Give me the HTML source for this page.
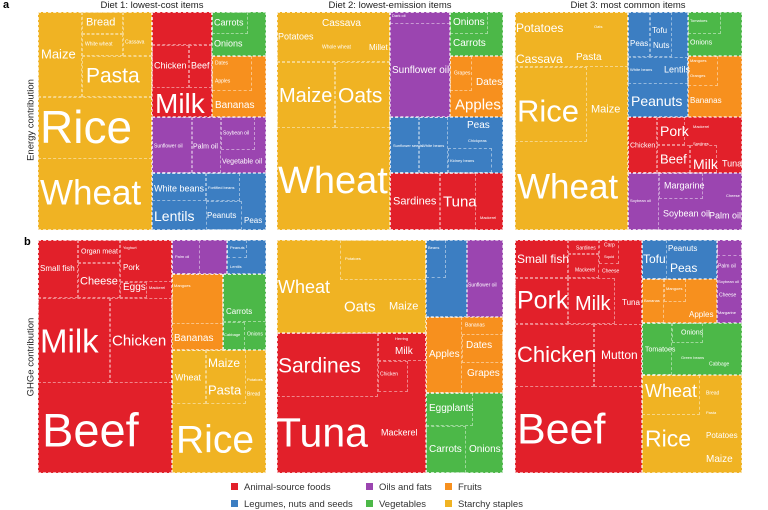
<!DOCTYPE html>
<html><head><meta charset="utf-8">
<style>
html,body{margin:0;padding:0;background:#fff;}
body{width:768px;height:509px;position:relative;overflow:hidden;font-family:"Liberation Sans",Arial,sans-serif;}
.r{position:absolute;box-sizing:border-box;border:1px dashed rgba(255,255,255,.6);}
.i{position:absolute;box-sizing:border-box;border:1px dashed rgba(255,255,255,.45);}
.t{position:absolute;color:#fff;line-height:1;transform:translateY(-50%);white-space:nowrap;}
.S{background:#f0b323}.A{background:#e2202a}.O{background:#9b45b0}.F{background:#f7901e}.L{background:#3c7ec2}.V{background:#4cb848}
.h{position:absolute;font-size:9.5px;color:#222;white-space:nowrap;transform:translateX(-50%);top:0px;}
.ax{position:absolute;font-size:9.5px;color:#222;white-space:nowrap;transform:translate(-50%,-50%) rotate(-90deg);}
.lg{position:absolute;font-size:9.5px;color:#333;white-space:nowrap;line-height:1;}
.lg i{display:inline-block;width:7px;height:7px;margin-right:6px;vertical-align:-0px;}
</style></head><body>
<div style="position:absolute;left:3px;top:-1px;font-weight:bold;font-size:11px;">a</div>
<div style="position:absolute;left:24px;top:236px;font-weight:bold;font-size:11px;">b</div>
<div class="h" style="left:152px">Diet 1: lowest-cost items</div>
<div class="h" style="left:390px">Diet 2: lowest-emission items</div>
<div class="h" style="left:628px">Diet 3: most common items</div>
<div class="ax" style="left:31px;top:120px">Energy contribution</div>
<div class="ax" style="left:31px;top:357px">GHGe contribution</div>

<!-- a1 -->
<div class="r S" style="left:38px;top:12px;width:114px;height:218px"></div>
<div class="i" style="left:38px;top:12px;width:44px;height:85px"></div>
<div class="i" style="left:82px;top:12px;width:41px;height:22px"></div>
<div class="i" style="left:82px;top:34px;width:41px;height:22px"></div>
<div class="i" style="left:123px;top:12px;width:29px;height:44px"></div>
<div class="i" style="left:82px;top:56px;width:70px;height:41px"></div>
<div class="i" style="left:38px;top:97px;width:114px;height:62px"></div>
<div class="r A" style="left:152px;top:12px;width:60px;height:105px"></div>
<div class="i" style="left:152px;top:12px;width:60px;height:33px"></div>
<div class="i" style="left:152px;top:45px;width:37px;height:43px"></div>
<div class="i" style="left:189px;top:45px;width:23px;height:43px"></div>
<div class="r V" style="left:212px;top:12px;width:54px;height:44px"></div>
<div class="i" style="left:212px;top:12px;width:36px;height:22px"></div>
<div class="r F" style="left:212px;top:56px;width:54px;height:61px"></div>
<div class="i" style="left:212px;top:56px;width:40px;height:35px"></div>
<div class="r O" style="left:152px;top:117px;width:114px;height:56px"></div>
<div class="i" style="left:152px;top:117px;width:40px;height:56px"></div>
<div class="i" style="left:192px;top:117px;width:29px;height:56px"></div>
<div class="i" style="left:221px;top:117px;width:34px;height:33px"></div>
<div class="r L" style="left:152px;top:173px;width:114px;height:57px"></div>
<div class="i" style="left:152px;top:173px;width:54px;height:28px"></div>
<div class="i" style="left:206px;top:173px;width:34px;height:28px"></div>
<div class="i" style="left:206px;top:201px;width:36px;height:29px"></div>
<span class="t" style="left:86px;top:23px;font-size:11px">Bread</span>
<span class="t" style="left:85px;top:45px;font-size:5px">White wheat</span>
<span class="t" style="left:125px;top:43px;font-size:5px">Cassava</span>
<span class="t" style="left:41px;top:54px;font-size:13px">Maize</span>
<span class="t" style="left:86px;top:76px;font-size:21px">Pasta</span>
<span class="t" style="left:40px;top:127px;font-size:46px">Rice</span>
<span class="t" style="left:40px;top:193px;font-size:35px">Wheat</span>
<span class="t" style="left:154px;top:66px;font-size:9px">Chicken</span>
<span class="t" style="left:191px;top:66px;font-size:9px">Beef</span>
<span class="t" style="left:155px;top:104px;font-size:28px">Milk</span>
<span class="t" style="left:214px;top:23px;font-size:9px">Carrots</span>
<span class="t" style="left:214px;top:44px;font-size:9px">Onions</span>
<span class="t" style="left:215px;top:64px;font-size:5px">Dates</span>
<span class="t" style="left:215px;top:82px;font-size:5px">Apples</span>
<span class="t" style="left:215px;top:106px;font-size:10px">Bananas</span>
<span class="t" style="left:154px;top:147px;font-size:5px">Sunflower oil</span>
<span class="t" style="left:193px;top:147px;font-size:7px">Palm oil</span>
<span class="t" style="left:223px;top:134px;font-size:5px">Soybean oil</span>
<span class="t" style="left:222px;top:162px;font-size:7px">Vegetable oil</span>
<span class="t" style="left:154px;top:189px;font-size:9px">White beans</span>
<span class="t" style="left:208px;top:188px;font-size:4px">Fortified beans</span>
<span class="t" style="left:154px;top:216px;font-size:14px">Lentils</span>
<span class="t" style="left:207px;top:216px;font-size:8px">Peanuts</span>
<span class="t" style="left:244px;top:221px;font-size:8px">Peas</span>

<!-- a2 -->
<div class="r S" style="left:277px;top:12px;width:113px;height:218px"></div>
<div class="i" style="left:277px;top:12px;width:113px;height:50px"></div>
<div class="i" style="left:277px;top:62px;width:58px;height:66px"></div>
<div class="i" style="left:335px;top:62px;width:55px;height:66px"></div>
<div class="r O" style="left:390px;top:12px;width:60px;height:105px"></div>
<div class="i" style="left:390px;top:12px;width:60px;height:12px"></div>
<div class="r V" style="left:450px;top:12px;width:53px;height:44px"></div>
<div class="i" style="left:450px;top:12px;width:38px;height:22px"></div>
<div class="r F" style="left:450px;top:56px;width:53px;height:61px"></div>
<div class="i" style="left:450px;top:56px;width:22px;height:35px"></div>
<div class="r L" style="left:390px;top:117px;width:113px;height:56px"></div>
<div class="i" style="left:390px;top:117px;width:29px;height:56px"></div>
<div class="i" style="left:419px;top:117px;width:29px;height:56px"></div>
<div class="i" style="left:448px;top:148px;width:44px;height:25px"></div>
<div class="r A" style="left:390px;top:173px;width:113px;height:57px"></div>
<div class="i" style="left:390px;top:173px;width:50px;height:57px"></div>
<div class="i" style="left:440px;top:173px;width:36px;height:57px"></div>
<span class="t" style="left:322px;top:24px;font-size:10px">Cassava</span>
<span class="t" style="left:278px;top:37px;font-size:9px">Potatoes</span>
<span class="t" style="left:322px;top:48px;font-size:5px">Whole wheat</span>
<span class="t" style="left:369px;top:48px;font-size:8px">Millet</span>
<span class="t" style="left:279px;top:96px;font-size:20px">Maize</span>
<span class="t" style="left:338px;top:96px;font-size:21px">Oats</span>
<span class="t" style="left:278px;top:181px;font-size:38px">Wheat</span>
<span class="t" style="left:392px;top:16px;font-size:4px">Dark oil</span>
<span class="t" style="left:392px;top:71px;font-size:10px">Sunflower oil</span>
<span class="t" style="left:453px;top:23px;font-size:10px">Onions</span>
<span class="t" style="left:453px;top:44px;font-size:10px">Carrots</span>
<span class="t" style="left:454px;top:74px;font-size:5px">Grapes</span>
<span class="t" style="left:476px;top:83px;font-size:10px">Dates</span>
<span class="t" style="left:455px;top:105px;font-size:15px">Apples</span>
<span class="t" style="left:467px;top:126px;font-size:10px">Peas</span>
<span class="t" style="left:468px;top:141px;font-size:4px">Chickpeas</span>
<span class="t" style="left:393px;top:146px;font-size:4px">Sunflower seeds</span>
<span class="t" style="left:422px;top:146px;font-size:4px">White beans</span>
<span class="t" style="left:450px;top:161px;font-size:4px">Kidney beans</span>
<span class="t" style="left:393px;top:202px;font-size:11px">Sardines</span>
<span class="t" style="left:443px;top:202px;font-size:15px">Tuna</span>
<span class="t" style="left:480px;top:218px;font-size:4px">Mackerel</span>

<!-- a3 -->
<div class="r S" style="left:515px;top:12px;width:113px;height:218px"></div>
<div class="i" style="left:515px;top:12px;width:113px;height:55px"></div>
<div class="i" style="left:515px;top:67px;width:72px;height:75px"></div>
<div class="r L" style="left:628px;top:12px;width:60px;height:105px"></div>
<div class="i" style="left:628px;top:12px;width:22px;height:45px"></div>
<div class="i" style="left:650px;top:12px;width:22px;height:45px"></div>
<div class="i" style="left:628px;top:57px;width:60px;height:27px"></div>
<div class="r V" style="left:688px;top:12px;width:54px;height:44px"></div>
<div class="i" style="left:688px;top:12px;width:33px;height:22px"></div>
<div class="r F" style="left:688px;top:56px;width:54px;height:61px"></div>
<div class="i" style="left:688px;top:56px;width:30px;height:30px"></div>
<div class="r A" style="left:628px;top:117px;width:114px;height:56px"></div>
<div class="i" style="left:628px;top:117px;width:29px;height:56px"></div>
<div class="i" style="left:657px;top:117px;width:28px;height:28px"></div>
<div class="i" style="left:657px;top:145px;width:33px;height:28px"></div>
<div class="i" style="left:690px;top:145px;width:27px;height:28px"></div>
<div class="r O" style="left:628px;top:173px;width:114px;height:57px"></div>
<div class="i" style="left:628px;top:173px;width:31px;height:57px"></div>
<div class="i" style="left:659px;top:173px;width:44px;height:26px"></div>
<span class="t" style="left:516px;top:28px;font-size:12px">Potatoes</span>
<span class="t" style="left:594px;top:27px;font-size:4px">Oats</span>
<span class="t" style="left:516px;top:59px;font-size:12px">Cassava</span>
<span class="t" style="left:576px;top:58px;font-size:10px">Pasta</span>
<span class="t" style="left:517px;top:111px;font-size:31px">Rice</span>
<span class="t" style="left:591px;top:110px;font-size:11px">Maize</span>
<span class="t" style="left:517px;top:187px;font-size:35px">Wheat</span>
<span class="t" style="left:652px;top:31px;font-size:8px">Tofu</span>
<span class="t" style="left:630px;top:44px;font-size:8px">Peas</span>
<span class="t" style="left:653px;top:46px;font-size:8px">Nuts</span>
<span class="t" style="left:630px;top:70px;font-size:4px">White beans</span>
<span class="t" style="left:664px;top:70px;font-size:9px">Lentils</span>
<span class="t" style="left:631px;top:101px;font-size:14px">Peanuts</span>
<span class="t" style="left:690px;top:21px;font-size:4px">Tomatoes</span>
<span class="t" style="left:690px;top:43px;font-size:7px">Onions</span>
<span class="t" style="left:690px;top:61px;font-size:4px">Mangoes</span>
<span class="t" style="left:690px;top:76px;font-size:4px">Oranges</span>
<span class="t" style="left:690px;top:101px;font-size:8px">Bananas</span>
<span class="t" style="left:630px;top:146px;font-size:7px">Chicken</span>
<span class="t" style="left:660px;top:131px;font-size:14px">Pork</span>
<span class="t" style="left:693px;top:127px;font-size:4px">Mackerel</span>
<span class="t" style="left:693px;top:144px;font-size:4px">Sardines</span>
<span class="t" style="left:660px;top:159px;font-size:13px">Beef</span>
<span class="t" style="left:693px;top:164px;font-size:14px">Milk</span>
<span class="t" style="left:722px;top:164px;font-size:9px">Tuna</span>
<span class="t" style="left:630px;top:201px;font-size:4px">Soybean oil</span>
<span class="t" style="left:664px;top:186px;font-size:9px">Margarine</span>
<span class="t" style="left:663px;top:214px;font-size:9px">Soybean oil</span>
<span class="t" style="left:709px;top:216px;font-size:9px">Palm oil</span>
<span class="t" style="left:726px;top:196px;font-size:4px">Cheese</span>

<!-- b1 -->
<div class="r A" style="left:38px;top:240px;width:134px;height:233px"></div>
<div class="i" style="left:38px;top:240px;width:40px;height:58px"></div>
<div class="i" style="left:78px;top:240px;width:42px;height:23px"></div>
<div class="i" style="left:78px;top:263px;width:42px;height:35px"></div>
<div class="i" style="left:120px;top:240px;width:52px;height:42px"></div>
<div class="i" style="left:120px;top:282px;width:27px;height:16px"></div>
<div class="i" style="left:38px;top:298px;width:72px;height:85px"></div>
<div class="i" style="left:110px;top:298px;width:62px;height:85px"></div>
<div class="r O" style="left:172px;top:240px;width:55px;height:34px"></div>
<div class="i" style="left:172px;top:240px;width:28px;height:34px"></div>
<div class="r L" style="left:227px;top:240px;width:39px;height:34px"></div>
<div class="i" style="left:227px;top:240px;width:20px;height:18px"></div>
<div class="r F" style="left:172px;top:274px;width:51px;height:76px"></div>
<div class="i" style="left:172px;top:274px;width:51px;height:50px"></div>
<div class="r V" style="left:223px;top:274px;width:43px;height:76px"></div>
<div class="i" style="left:223px;top:274px;width:43px;height:48px"></div>
<div class="i" style="left:223px;top:322px;width:22px;height:28px"></div>
<div class="r S" style="left:172px;top:350px;width:94px;height:123px"></div>
<div class="i" style="left:172px;top:350px;width:34px;height:54px"></div>
<div class="i" style="left:206px;top:350px;width:40px;height:54px"></div>
<span class="t" style="left:40px;top:269px;font-size:8px">Small fish</span>
<span class="t" style="left:81px;top:252px;font-size:7px">Organ meat</span>
<span class="t" style="left:123px;top:248px;font-size:4px">Yoghurt</span>
<span class="t" style="left:80px;top:282px;font-size:11px">Cheese</span>
<span class="t" style="left:123px;top:268px;font-size:8px">Pork</span>
<span class="t" style="left:123px;top:288px;font-size:10px">Eggs</span>
<span class="t" style="left:149px;top:288px;font-size:4px">Mackerel</span>
<span class="t" style="left:40px;top:341px;font-size:33px">Milk</span>
<span class="t" style="left:112px;top:341px;font-size:15px">Chicken</span>
<span class="t" style="left:42px;top:430px;font-size:47px">Beef</span>
<span class="t" style="left:175px;top:257px;font-size:4px">Palm oil</span>
<span class="t" style="left:230px;top:248px;font-size:4px">Peanuts</span>
<span class="t" style="left:230px;top:267px;font-size:4px">Lentils</span>
<span class="t" style="left:174px;top:286px;font-size:4px">Mangoes</span>
<span class="t" style="left:174px;top:339px;font-size:10px">Bananas</span>
<span class="t" style="left:226px;top:312px;font-size:8px">Carrots</span>
<span class="t" style="left:224px;top:335px;font-size:4px">Cabbage</span>
<span class="t" style="left:247px;top:335px;font-size:5px">Onions</span>
<span class="t" style="left:208px;top:363px;font-size:12px">Maize</span>
<span class="t" style="left:175px;top:378px;font-size:9px">Wheat</span>
<span class="t" style="left:208px;top:390px;font-size:13px">Pasta</span>
<span class="t" style="left:247px;top:380px;font-size:4px">Potatoes</span>
<span class="t" style="left:247px;top:395px;font-size:5px">Bread</span>
<span class="t" style="left:176px;top:440px;font-size:39px">Rice</span>

<!-- b2 -->
<div class="r S" style="left:277px;top:240px;width:149px;height:93px"></div>
<div class="i" style="left:340px;top:240px;width:86px;height:40px"></div>
<div class="r A" style="left:277px;top:333px;width:149px;height:140px"></div>
<div class="i" style="left:277px;top:333px;width:101px;height:64px"></div>
<div class="i" style="left:378px;top:333px;width:48px;height:28px"></div>
<div class="i" style="left:378px;top:361px;width:30px;height:31px"></div>
<div class="r L" style="left:426px;top:240px;width:41px;height:77px"></div>
<div class="i" style="left:426px;top:240px;width:20px;height:38px"></div>
<div class="r O" style="left:467px;top:240px;width:36px;height:77px"></div>
<div class="r F" style="left:426px;top:317px;width:77px;height:76px"></div>
<div class="i" style="left:426px;top:317px;width:36px;height:76px"></div>
<div class="i" style="left:462px;top:334px;width:41px;height:29px"></div>
<div class="r V" style="left:426px;top:393px;width:77px;height:80px"></div>
<div class="i" style="left:426px;top:393px;width:47px;height:33px"></div>
<div class="i" style="left:426px;top:426px;width:40px;height:47px"></div>
<span class="t" style="left:345px;top:259px;font-size:4px">Potatoes</span>
<span class="t" style="left:278px;top:287px;font-size:18px">Wheat</span>
<span class="t" style="left:344px;top:307px;font-size:15px">Oats</span>
<span class="t" style="left:389px;top:307px;font-size:11px">Maize</span>
<span class="t" style="left:278px;top:366px;font-size:21px">Sardines</span>
<span class="t" style="left:276px;top:433px;font-size:41px">Tuna</span>
<span class="t" style="left:395px;top:339px;font-size:4px">Herring</span>
<span class="t" style="left:395px;top:352px;font-size:10px">Milk</span>
<span class="t" style="left:380px;top:375px;font-size:5px">Chicken</span>
<span class="t" style="left:381px;top:433px;font-size:9px">Mackerel</span>
<span class="t" style="left:428px;top:248px;font-size:4px">Beans</span>
<span class="t" style="left:468px;top:286px;font-size:5px">Sunflower oil</span>
<span class="t" style="left:465px;top:326px;font-size:5px">Bananas</span>
<span class="t" style="left:466px;top:346px;font-size:10px">Dates</span>
<span class="t" style="left:429px;top:355px;font-size:10px">Apples</span>
<span class="t" style="left:467px;top:374px;font-size:10px">Grapes</span>
<span class="t" style="left:429px;top:409px;font-size:10px">Eggplants</span>
<span class="t" style="left:429px;top:450px;font-size:10px">Carrots</span>
<span class="t" style="left:469px;top:450px;font-size:10px">Onions</span>

<!-- b3 -->
<div class="r A" style="left:515px;top:240px;width:127px;height:233px"></div>
<div class="i" style="left:515px;top:240px;width:53px;height:38px"></div>
<div class="i" style="left:568px;top:240px;width:31px;height:14px"></div>
<div class="i" style="left:568px;top:254px;width:31px;height:24px"></div>
<div class="i" style="left:599px;top:240px;width:20px;height:24px"></div>
<div class="i" style="left:515px;top:278px;width:53px;height:46px"></div>
<div class="i" style="left:568px;top:278px;width:47px;height:46px"></div>
<div class="i" style="left:515px;top:324px;width:79px;height:63px"></div>
<div class="i" style="left:594px;top:324px;width:48px;height:63px"></div>
<div class="r L" style="left:642px;top:240px;width:75px;height:39px"></div>
<div class="i" style="left:642px;top:240px;width:25px;height:39px"></div>
<div class="r O" style="left:717px;top:240px;width:25px;height:83px"></div>
<div class="i" style="left:717px;top:240px;width:25px;height:16px"></div>
<div class="r F" style="left:642px;top:279px;width:75px;height:44px"></div>
<div class="i" style="left:642px;top:279px;width:22px;height:44px"></div>
<div class="i" style="left:664px;top:279px;width:22px;height:23px"></div>
<div class="r V" style="left:642px;top:323px;width:100px;height:52px"></div>
<div class="i" style="left:642px;top:323px;width:30px;height:52px"></div>
<div class="i" style="left:672px;top:323px;width:31px;height:20px"></div>
<div class="r S" style="left:642px;top:375px;width:100px;height:98px"></div>
<div class="i" style="left:642px;top:375px;width:58px;height:40px"></div>
<span class="t" style="left:517px;top:259px;font-size:12px">Small fish</span>
<span class="t" style="left:576px;top:249px;font-size:5px">Sardines</span>
<span class="t" style="left:604px;top:246px;font-size:5px">Carp</span>
<span class="t" style="left:604px;top:257px;font-size:4px">Squid</span>
<span class="t" style="left:575px;top:271px;font-size:5px">Mackerel</span>
<span class="t" style="left:602px;top:272px;font-size:5px">Cheese</span>
<span class="t" style="left:517px;top:301px;font-size:25px">Pork</span>
<span class="t" style="left:575px;top:304px;font-size:20px">Milk</span>
<span class="t" style="left:622px;top:303px;font-size:8px">Tuna</span>
<span class="t" style="left:517px;top:355px;font-size:22px">Chicken</span>
<span class="t" style="left:601px;top:355px;font-size:12px">Mutton</span>
<span class="t" style="left:517px;top:430px;font-size:43px">Beef</span>
<span class="t" style="left:643px;top:259px;font-size:12px">Tofu</span>
<span class="t" style="left:668px;top:249px;font-size:8px">Peanuts</span>
<span class="t" style="left:670px;top:268px;font-size:12px">Peas</span>
<span class="t" style="left:718px;top:267px;font-size:5px">Palm oil</span>
<span class="t" style="left:718px;top:282px;font-size:4px">Soybean oil</span>
<span class="t" style="left:719px;top:296px;font-size:5px">Cheese</span>
<span class="t" style="left:718px;top:313px;font-size:4px">Margarine</span>
<span class="t" style="left:644px;top:301px;font-size:4px">Bananas</span>
<span class="t" style="left:666px;top:289px;font-size:4px">Mangoes</span>
<span class="t" style="left:689px;top:315px;font-size:8px">Apples</span>
<span class="t" style="left:681px;top:333px;font-size:7px">Onions</span>
<span class="t" style="left:645px;top:350px;font-size:7px">Tomatoes</span>
<span class="t" style="left:681px;top:358px;font-size:4px">Green beans</span>
<span class="t" style="left:709px;top:365px;font-size:5px">Cabbage</span>
<span class="t" style="left:645px;top:391px;font-size:18px">Wheat</span>
<span class="t" style="left:706px;top:394px;font-size:5px">Bread</span>
<span class="t" style="left:706px;top:413px;font-size:4px">Pasta</span>
<span class="t" style="left:645px;top:439px;font-size:23px">Rice</span>
<span class="t" style="left:706px;top:436px;font-size:8px">Potatoes</span>
<span class="t" style="left:706px;top:460px;font-size:10px">Maize</span>

<!-- legend -->
<div class="lg" style="left:231px;top:483px"><i style="background:#e2202a"></i>Animal-source foods</div>
<div class="lg" style="left:366px;top:483px"><i style="background:#9b45b0"></i>Oils and fats</div>
<div class="lg" style="left:445px;top:483px"><i style="background:#f7901e"></i>Fruits</div>
<div class="lg" style="left:231px;top:500px"><i style="background:#3c7ec2"></i>Legumes, nuts and seeds</div>
<div class="lg" style="left:366px;top:500px"><i style="background:#4cb848"></i>Vegetables</div>
<div class="lg" style="left:445px;top:500px"><i style="background:#f0b323"></i>Starchy staples</div>
</body></html>
